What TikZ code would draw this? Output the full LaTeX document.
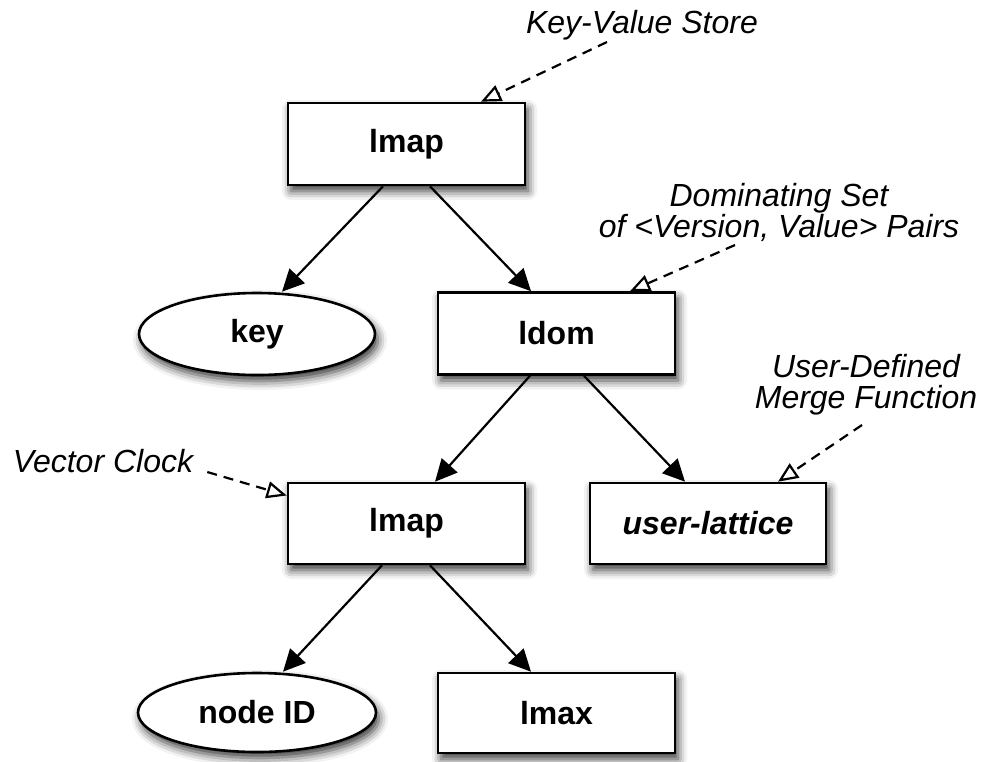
\documentclass[tikz,border=0pt]{standalone}
\usepackage{fontspec}
\setmainfont{Liberation Sans}
\usetikzlibrary{shapes.geometric,arrows.meta,shadows.blur}
\begin{document}
\begin{tikzpicture}[x=1pt,y=-1pt,
  box/.style={draw,line width=2.6pt,fill=white,minimum width=237pt,minimum height=82pt,inner sep=0pt,
    font=\fontsize{32}{32}\selectfont\bfseries,
    blur shadow={shadow xshift=3pt,shadow yshift=-6pt,shadow blur radius=9pt,shadow opacity=80}},
  oval/.style={box,ellipse},
  link/.style={line width=2.2pt,-{Triangle[length=22pt,width=21pt]}},
  note/.style={line width=2.2pt,dash pattern=on 10pt off 7pt,-{Triangle[open,length=20pt,width=17pt,fill=white,line width=2.2pt]}},
  lbl/.style={font=\fontsize{32}{31}\selectfont\itshape,inner sep=0pt,align=center}
]
\useasboundingbox (0,0) rectangle (984,761);

% nodes
\node[box]  (lmapA) at (406.5,144)   {lmap};
\node[oval,minimum width=236pt] (key) at (257,334) {key};
\node[box]  (ldom)  at (556.5,333.5) {ldom};
\node[box,minimum height=81pt]  (lmapB) at (406.5,523.5) {lmap};
\node[box,minimum width=236pt,minimum height=81pt] (user) at (708,523.5) {\bfseries\itshape user-lattice};
\node[oval,minimum width=238pt,minimum height=79pt] (nid) at (257,712.5) {node ID};
\node[box,minimum height=80pt]  (lmax)  at (556.5,713)   {lmax};

% labels
\node[lbl,anchor=base] (kv) at (642,33) {Key-Value Store};
\node[lbl] (dom) at (779,212) {Dominating Set\\of <Version, Value> Pairs};
\node[lbl] (ud) at (866,385) {User-Defined\\Merge Function};
\node[lbl,anchor=base] (vc) at (103,472) {Vector Clock};

% tree connectors
\draw[link] ([xshift=-23.5pt]lmapA.south) -- ([xshift=25pt]key.north);
\draw[link] ([xshift=23.5pt]lmapA.south) -- ([xshift=-25.5pt]ldom.north);
\draw[link] ([xshift=-26.5pt]ldom.south) -- ([xshift=28.5pt]lmapB.north);
\draw[link] ([xshift=27.5pt]ldom.south) -- ([xshift=-23pt]user.north);
\draw[link] ([xshift=-24.5pt]lmapB.south) -- ([xshift=26pt]nid.north);
\draw[link] ([xshift=23.5pt]lmapB.south) -- ([xshift=-25.5pt]lmax.north);

% annotation connectors
\draw[note] ([xshift=-35pt,yshift=-9pt]kv.base) -- ([xshift=74.5pt]lmapA.north);
\draw[note] ([xshift=-44pt,yshift=-33pt]dom.center) -- ([xshift=73.5pt]ldom.north);
\draw[note] ([xshift=-4pt,yshift=-40pt]ud.center) -- ([xshift=70pt]user.north);
\draw[note] ([xshift=14pt]vc.base east) -- ([yshift=28pt]lmapB.west);
\end{tikzpicture}
\end{document}
